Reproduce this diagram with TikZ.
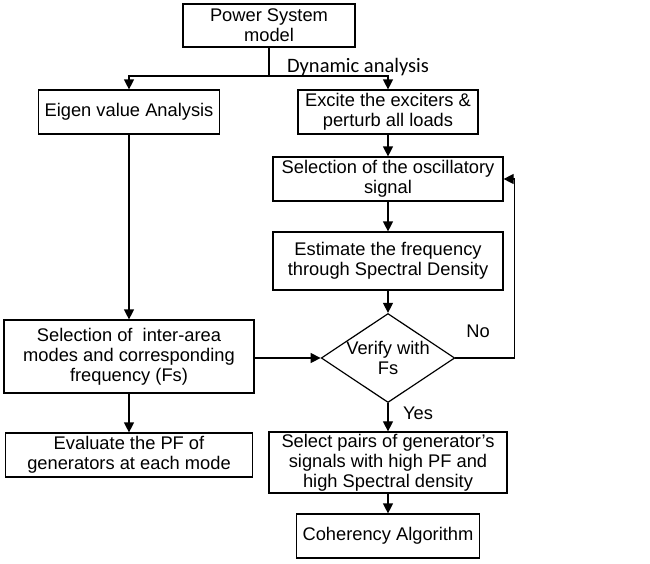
\documentclass[tikz,border=0pt]{standalone}
\usepackage{fontspec}
\setmainfont{Liberation Sans}
\newfontfamily\carlito{Carlito}
\usepackage{tikz}
\usetikzlibrary{shapes.geometric, arrows.meta, positioning}

\begin{document}
\begin{tikzpicture}[x=1pt, y=1pt, font=\fontsize{18.3}{20}\selectfont, line width=1.2pt]
    \tikzstyle{block}=[rectangle, draw, align=center, inner sep=2pt]
    \tikzstyle{check}=[diamond, draw, align=center, inner sep=0pt, aspect=1.5]
    \tikzstyle{arr}=[-{Triangle[length=10pt, width=10pt]}]
    \useasboundingbox (0,0) rectangle (650,-563);

    \node[block, minimum width=172, minimum height=43] (pwr) at (269,-25.5) {Power System\\model};
    \node[block, minimum width=181, minimum height=44] (eig) at (129,-112) {Eigen value Analysis};
    \node[block, minimum width=180, minimum height=44] (exc) at (388,-112) {Excite the exciters \&\\perturb all loads};
    \node[block, minimum width=230, minimum height=44] (osc) at (388,-179) {Selection of the oscillatory\\signal};
    \node[block, minimum width=230, minimum height=58] (est) at (388,-261) {Estimate the frequency\\through Spectral Density};
    \node[check, minimum width=132, minimum height=88] (ver) at (388,-358) {Verify with\\Fs};
    \node[block, minimum width=250, minimum height=73] (sel) at (129,-356.5) {Selection of~ inter-area\\modes and corresponding\\frequency (Fs)};
    \node[block, minimum width=247, minimum height=44] (evl) at (129,-455) {Evaluate the PF of\\generators at each mode};
    \node[block, minimum width=238, minimum height=57] (pai) at (388,-462.5) {Select pairs of generator's\\signals with high PF and\\high Spectral density};
    \node[block, minimum width=183, minimum height=44] (coh) at (388,-536) {Coherency Algorithm};

    \coordinate (split) at (269,-76);
    \node[font=\carlito\fontsize{20.5}{24}\selectfont] (dyn) at (358,-67) {Dynamic analysis};
    \node (no) at (478,-331) {No};
    \node (yes) at (418,-413) {Yes};

    \draw (pwr.south) -- (split);
    \draw[arr] (split) -| (eig.north);
    \draw[arr] (split) -| (exc.north);
    \draw[arr] (exc) -- (osc);
    \draw[arr] (osc) -- (est);
    \draw[arr] (est) -- (ver);
    \draw[arr] (eig) -- (sel);
    \draw[arr] (sel.east |- ver.west) -- (ver.west);
    \draw[arr] (sel) -- (evl);
    \draw[arr] (ver.east) -- ++(59,0) |- (osc.east);
    \draw[arr] (ver) -- (pai);
    \draw[arr] (pai) -- (coh);
\end{tikzpicture}
\end{document}
